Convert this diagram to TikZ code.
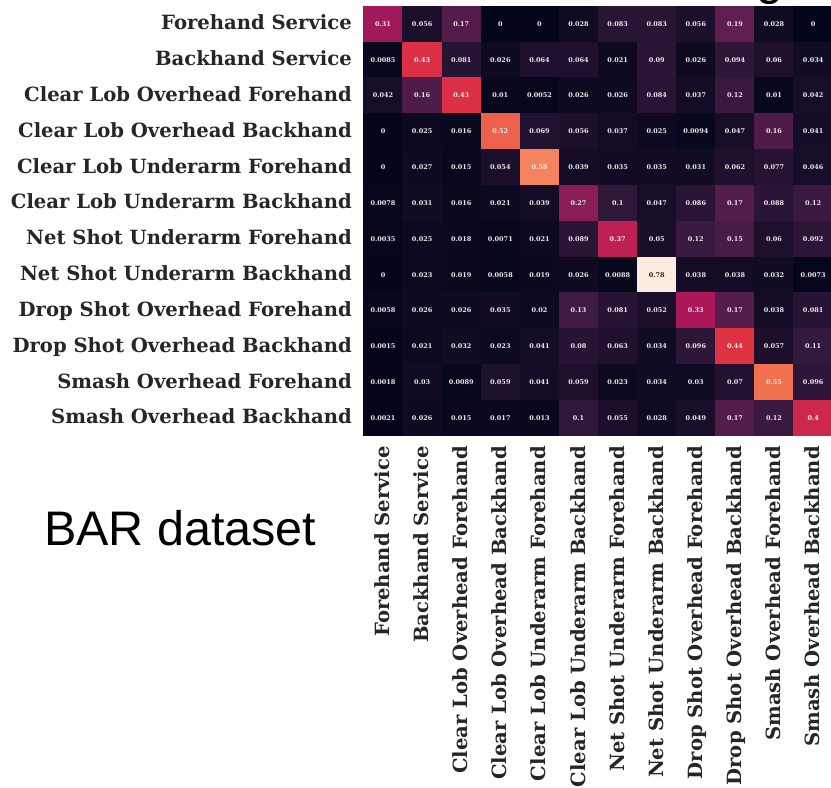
\documentclass[tikz,border=0pt]{standalone}
\usepackage{fontspec}
\setmainfont{DejaVu Serif}
\newfontfamily\titlefont{Liberation Sans}
\def\rocketR{{3,53,112,173,225,243,246,250}}
\def\rocketG{{5,25,31,23,51,118,180,235}}
\def\rocketB{{26,62,87,89,66,81,143,221}}
\begin{document}
\begin{tikzpicture}[x=1pt,y=-1pt,
    cell/.style={minimum width=39.5pt,minimum height=36.2pt,inner sep=0pt,font=\bfseries\fontsize{6.5}{7}\selectfont},
    rowlab/.style={anchor=base east,inner sep=0pt,font=\bfseries\fontsize{19.6}{24}\selectfont,text=black!85},
    collab/.style={rowlab,rotate=90},
    titlelab/.style={inner sep=0pt,font=\titlefont\fontsize{48.5}{56}\selectfont}]
    \useasboundingbox (0,0) rectangle (831,788);

    \foreach \row [count=\i] in {
        {0.31,0.056,0.17,0,0,0.028,0.083,0.083,0.056,0.19,0.028,0},
        {0.0085,0.43,0.081,0.026,0.064,0.064,0.021,0.09,0.026,0.094,0.06,0.034},
        {0.042,0.16,0.43,0.01,0.0052,0.026,0.026,0.084,0.037,0.12,0.01,0.042},
        {0,0.025,0.016,0.52,0.069,0.056,0.037,0.025,0.0094,0.047,0.16,0.041},
        {0,0.027,0.015,0.054,0.58,0.039,0.035,0.035,0.031,0.062,0.077,0.046},
        {0.0078,0.031,0.016,0.021,0.039,0.27,0.1,0.047,0.086,0.17,0.088,0.12},
        {0.0035,0.025,0.018,0.0071,0.021,0.089,0.37,0.05,0.12,0.15,0.06,0.092},
        {0,0.023,0.019,0.0058,0.019,0.026,0.0088,0.78,0.038,0.038,0.032,0.0073},
        {0.0058,0.026,0.026,0.035,0.02,0.13,0.081,0.052,0.33,0.17,0.038,0.081},
        {0.0015,0.021,0.032,0.023,0.041,0.08,0.063,0.034,0.096,0.44,0.057,0.11},
        {0.0018,0.03,0.0089,0.059,0.041,0.059,0.023,0.034,0.03,0.07,0.55,0.096},
        {0.0021,0.026,0.015,0.017,0.013,0.1,0.055,0.028,0.049,0.17,0.12,0.4}} {
        \foreach \v [count=\j] in \row {
            \pgfmathsetmacro\rpos{min(\v/0.78,1)*7}
            \pgfmathtruncatemacro\rseg{min(floor(\rpos),6)}
            \pgfmathsetmacro\rfr{\rpos-\rseg}
            \pgfmathtruncatemacro\colR{round(\rocketR[\rseg]*(1-\rfr)+\rocketR[\rseg+1]*\rfr)}
            \pgfmathtruncatemacro\colG{round(\rocketG[\rseg]*(1-\rfr)+\rocketG[\rseg+1]*\rfr)}
            \pgfmathtruncatemacro\colB{round(\rocketB[\rseg]*(1-\rfr)+\rocketB[\rseg+1]*\rfr)}
            \definecolor{cellfill}{RGB}{\colR,\colG,\colB}
            \ifdim\v pt>0.7pt \def\txtcol{black!85}\else\def\txtcol{white!92!black}\fi
            \node[cell,fill=cellfill,text=\txtcol] (c\i-\j) at ({363.5+39.1*(\j-0.5)},{6+35.83*(\i-0.5)}) {\v};
        }
    }

    \foreach \lab [count=\i] in {Forehand Service,Backhand Service,Clear Lob Overhead Forehand,Clear Lob Overhead Backhand,Clear Lob Underarm Forehand,Clear Lob Underarm Backhand,Net Shot Underarm Forehand,Net Shot Underarm Backhand,Drop Shot Overhead Forehand,Drop Shot Overhead Backhand,Smash Overhead Forehand,Smash Overhead Backhand} {
        \node[rowlab] (r\i) at (352,{6+35.83*(\i-0.5)+5.8}) {\lab};
        \node[collab] (k\i) at ({363.5+39.1*(\i-0.5)+6.5},446) {\lab};
    }

    \node[titlelab,anchor=base west] (bar) at (44,545) {BAR dataset};
    \node[titlelab,anchor=base] (cut) at (770,-6) {g};
\end{tikzpicture}
\end{document}
